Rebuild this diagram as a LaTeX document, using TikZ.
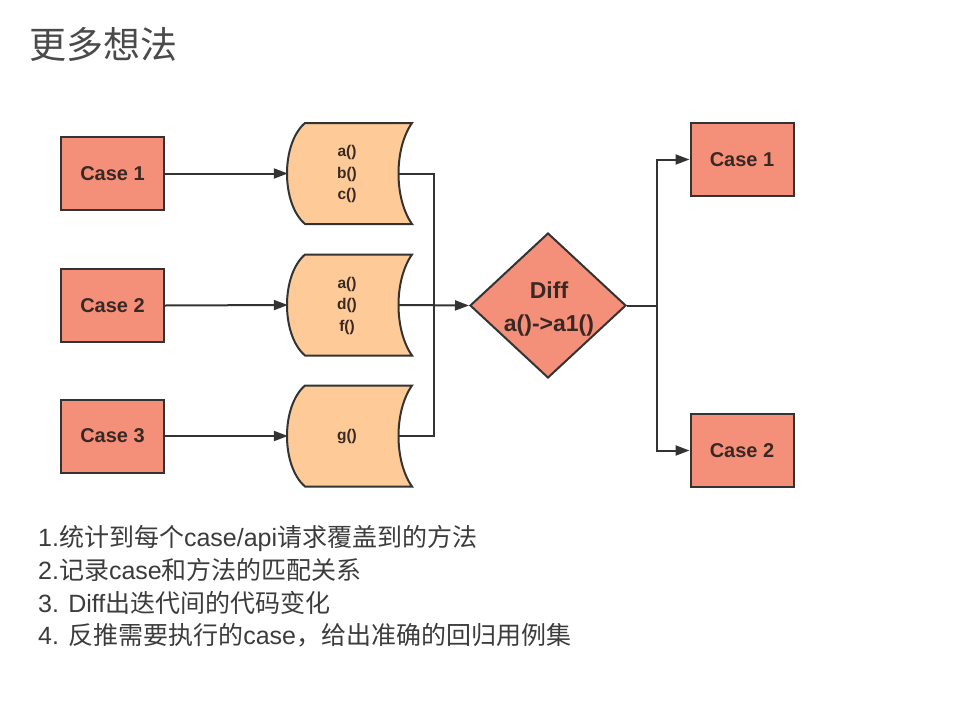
\documentclass[tikz,border=0pt]{standalone}
\usepackage{fontspec}
\setmainfont{Liberation Sans}
\newfontfamily\cjk{Noto Sans CJK SC}
\usetikzlibrary{shapes.geometric,arrows.meta}
\definecolor{salmon}{HTML}{F4907A}
\definecolor{peach}{HTML}{FECB98}
\definecolor{edgec}{HTML}{333333}
\definecolor{darktxt}{HTML}{3A2824}
\definecolor{listtxt}{HTML}{3C3C3C}
\definecolor{titlegray}{HTML}{4A4A4A}
\tikzset{
  casebox/.style={draw=edgec, line width=2pt, fill=salmon, minimum width=103pt, minimum height=73pt, inner sep=0pt, text=darktxt, font=\fontsize{20}{22}\selectfont\bfseries},
  dbbox/.style={minimum width=110pt, minimum height=101pt, inner sep=0pt},
  dbtext/.style={inner sep=0pt, align=center, text=darktxt, font=\fontsize{15.5}{21.5}\selectfont\bfseries},
  diffbox/.style={diamond, draw=edgec, line width=2pt, fill=salmon, minimum width=156pt, minimum height=145pt, aspect=1.07, inner sep=0pt},
  difftext/.style={inner sep=0pt, align=center, text=darktxt, font=\fontsize{23}{33}\selectfont\bfseries},
  conn/.style={draw=edgec, line width=2pt},
  arr/.style={conn, -{Triangle[length=14pt,width=10pt]}},
  listline/.style={anchor=base west, inner sep=0pt, text=listtxt, font=\fontsize{25}{30}\selectfont},
  dbpic/.pic={\path[draw=edgec, line width=2pt, fill=peach] (-38,-50.5) -- (69,-50.5) .. controls (51,-25) and (51,25) .. (69,50.5) -- (-38,50.5) .. controls (-62,30) and (-62,-30) .. cycle;}
}
\begin{document}
\begin{tikzpicture}[x=1pt,y=-1pt]
\useasboundingbox[fill=white] (0,0) rectangle (960,720);

\node[anchor=base west, inner sep=0pt, text=titlegray, font=\cjk\fontsize{37}{40}\selectfont] (title) at (29,58) {更多想法};

% left cases
\node[casebox] (c1) at (112.5,173.5) {Case 1};
\node[casebox] (c2) at (112.5,305.5) {Case 2};
\node[casebox] (c3) at (112.5,436) {Case 3};

% data stores
\pic at (343,173.5) {dbpic};
\pic at (343,305) {dbpic};
\pic at (343,436) {dbpic};
\node[dbbox] (d1) at (343,173.5) {};
\node[dbbox] (d2) at (343,305) {};
\node[dbbox] (d3) at (343,436) {};
\node[dbtext] (d1t) at (347,174) {a()\\b()\\c()};
\node[dbtext] (d2t) at (347,305.5) {a()\\d()\\f()};
\node[dbtext] (d3t) at (347,436.5) {g()};

% diamond
\node[diffbox] (dia) at (548,305.5) {};
\node[difftext] (diat) at (549,309) {Diff\\a()->a1()};

% right cases
\node[casebox] (r1) at (742,159.5) {Case 1};
\node[casebox] (r2) at (742,450.5) {Case 2};

\coordinate (jx) at (434,305);
\coordinate (split) at (657,305.5);

\draw[arr] (c1.east) -- (d1.west);
\draw[arr] (c2.east) -- (d2.west);
\draw[arr] (c3.east) -- (d3.west);
\draw[conn] (d1.east) -| (jx) |- (d3.east);
\draw[arr] (d2.east) -- (dia.west);
\draw[conn] (dia.east) -- (split);
\draw[arr] (split) |- (r1.west);
\draw[arr] (split) |- (r2.west);

% list
\node[listline] (t1) at (38,546) {1.{\cjk 统计到每个}case/api{\cjk 请求覆盖到的方法}};
\node[listline] (t2) at (38,579) {2.{\cjk 记录}case{\cjk 和方法的匹配关系}};
\node[listline] (t3) at (38,612) {3. Diff{\cjk 出迭代间的代码变化}};
\node[listline] (t4) at (38,644) {4. {\cjk 反推需要执行的}case{\cjk ，给出准确的回归用例集}};
\end{tikzpicture}
\end{document}
